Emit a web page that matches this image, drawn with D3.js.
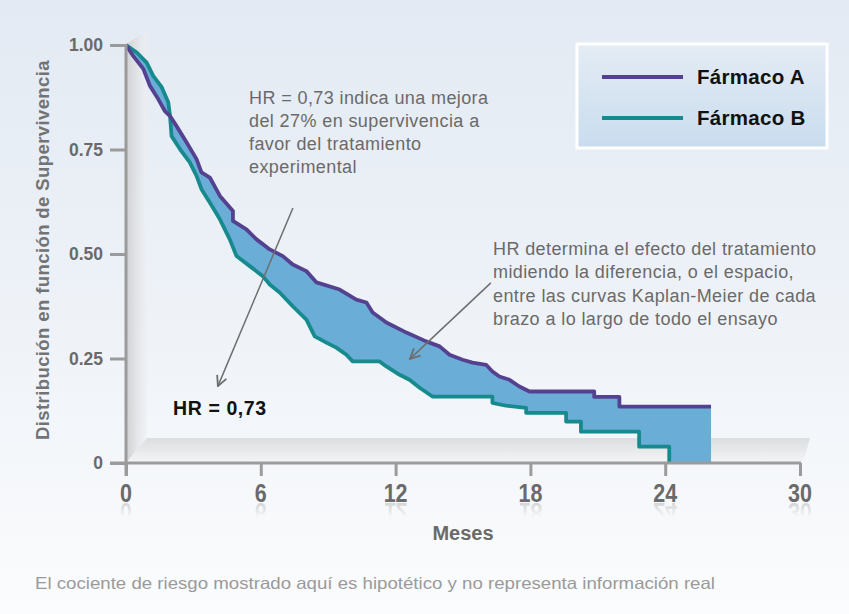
<!DOCTYPE html>
<html>
<head>
<meta charset="utf-8">
<script src="https://cdn.jsdelivr.net/npm/d3@7"></script>
<style>
  body { margin: 0; background: #fff; }
  svg { display: block; font-family: "Liberation Sans", Arial, sans-serif; }
</style>
</head>
<body>
<svg id="chart" width="849" height="614"></svg>
<script>
// Kaplan-Meier curve vertices (months, survival)
const farmacoA_t = [0, 0.32, 0.77, 1.07, 1.44, 1.73, 1.96, 2.25, 2.70, 3.14, 3.36, 3.73, 4.18, 4.76, 4.76, 5.36, 5.81, 6.40, 6.98, 7.42, 8.03, 8.48, 9.51, 10.25, 10.70, 10.98, 11.59, 12.48, 13.36, 13.96, 14.40, 14.98, 15.42, 16.03, 16.31, 16.62, 17.07, 17.51, 17.96, 20.84, 20.84, 21.96, 21.96, 26.04];
const farmacoA_s = [1.00, 0.974, 0.943, 0.902, 0.870, 0.842, 0.830, 0.806, 0.767, 0.727, 0.695, 0.683, 0.639, 0.603, 0.579, 0.559, 0.535, 0.511, 0.495, 0.475, 0.459, 0.432, 0.415, 0.391, 0.384, 0.360, 0.336, 0.312, 0.291, 0.279, 0.259, 0.247, 0.240, 0.235, 0.219, 0.207, 0.199, 0.183, 0.171, 0.171, 0.158, 0.158, 0.135, 0.135];

const farmacoB_t = [0, 0.48, 0.92, 1.21, 1.59, 1.88, 1.96, 2.03, 2.40, 2.84, 3.14, 3.36, 3.73, 4.18, 4.62, 4.92, 5.51, 6.09, 6.40, 6.84, 7.42, 8.03, 8.40, 8.92, 9.36, 9.81, 10.09, 11.29, 11.59, 12.18, 12.62, 13.07, 13.64, 16.31, 16.31, 16.92, 17.81, 17.81, 19.59, 19.59, 20.25, 20.25, 22.84, 22.84, 24.18, 24.18];
const farmacoB_s = [1.00, 0.982, 0.958, 0.926, 0.899, 0.863, 0.830, 0.782, 0.751, 0.719, 0.687, 0.655, 0.623, 0.583, 0.535, 0.495, 0.471, 0.447, 0.427, 0.408, 0.375, 0.343, 0.303, 0.288, 0.276, 0.259, 0.243, 0.243, 0.231, 0.211, 0.199, 0.180, 0.159, 0.159, 0.144, 0.137, 0.132, 0.120, 0.120, 0.099, 0.099, 0.075, 0.075, 0.039, 0.039, 0];

const xTicks = [0, 6, 12, 18, 24, 30];
const yTicks = [0, 0.25, 0.5, 0.75, 1];
const yTickLabels = ["0", "0.25", "0.50", "0.75", "1.00"];
const seriesNames = ["Fármaco A", "Fármaco B"];

const note1 = ["HR = 0,73 indica una mejora", "del 27% en supervivencia a", "favor del tratamiento", "experimental"];
const note2 = ["HR determina el efecto del tratamiento", "midiendo la diferencia, o el espacio,", "entre las curvas Kaplan-Meier de cada", "brazo a lo largo de todo el ensayo"];
const hrLabel = "HR = 0,73";
const footer = "El cociente de riesgo mostrado aquí es hipotético y no representa información real";

const colA = "#54418f", colB = "#168a8c", colFill = "#6aaed8", axisCol = "#9b9b9b", textCol = "#6a6a6a";

const svg = d3.select("#chart");
const defs = svg.append("defs");

// background
const bg = defs.append("linearGradient").attr("id", "bg").attr("x1", 0).attr("y1", 0).attr("x2", 0).attr("y2", 1);
bg.append("stop").attr("offset", "0%").attr("stop-color", "#e3eaf3");
bg.append("stop").attr("offset", "55%").attr("stop-color", "#eff3f8");
bg.append("stop").attr("offset", "100%").attr("stop-color", "#fbfcfd");
svg.append("rect").attr("width", 849).attr("height", 614).attr("fill", "url(#bg)");

const x = d3.scaleLinear().domain([0, 30]).range([126, 800]);
const y = d3.scaleLinear().domain([0, 1]).range([463, 45]);

// 3D wall + floor
const wallG = defs.append("linearGradient").attr("id", "wall").attr("x1", 0).attr("x2", 1).attr("y1", 0).attr("y2", 0);
wallG.append("stop").attr("offset", "0%").attr("stop-color", "#cfd0d2");
wallG.append("stop").attr("offset", "100%").attr("stop-color", "#eef0f3").attr("stop-opacity", 0.6);
const floorG = defs.append("linearGradient").attr("id", "floor").attr("x1", 0).attr("x2", 0).attr("y1", 0).attr("y2", 1);
floorG.append("stop").attr("offset", "0%").attr("stop-color", "#dcdddf");
floorG.append("stop").attr("offset", "100%").attr("stop-color", "#f4f5f6");
const d3w = 21, d3h = 25;
svg.append("path")
  .attr("d", `M${x(0)},${y(1) - 1} L${x(0) + d3w},${y(1) - 14} L${x(0) + d3w},${y(0) - d3h} L${x(0)},${y(0)} Z`)
  .attr("fill", "url(#wall)");
svg.append("path")
  .attr("d", `M${x(0)},${y(0)} L${x(0) + d3w},${y(0) - d3h} L${x(30) + 10},${y(0) - d3h} L${x(30) + 4},${y(0) - 4} L${x(30)},${y(0)} Z`)
  .attr("fill", "url(#floor)");

const dataA = farmacoA_t.map((t, i) => [t, farmacoA_s[i]]);
const dataB = farmacoB_t.map((t, i) => [t, farmacoB_s[i]]);
const line = d3.line().x((d) => x(d[0])).y((d) => y(d[1]));

// band between the two curves: A forward, then B backwards (B runs at 0 until A ends)
const tEnd = farmacoA_t[farmacoA_t.length - 1];
const bandPts = dataA.concat([[tEnd, 0]], dataB.slice().reverse());
svg.append("path").attr("d", line(bandPts) + "Z").attr("fill", colFill).attr("fill-rule", "nonzero");

svg.append("path").attr("d", line(dataB)).attr("fill", "none").attr("stroke", colB).attr("stroke-width", 3.8)
  .attr("stroke-linejoin", "round");
svg.append("path").attr("d", line(dataA)).attr("fill", "none").attr("stroke", colA).attr("stroke-width", 3.8)
  .attr("stroke-linejoin", "round");

// axes
const yAxis = d3.axisLeft(y).tickValues(yTicks).tickSize(16).tickPadding(7)
  .tickFormat((d, i) => yTickLabels[i]);
const yAxisG = svg.append("g").attr("transform", `translate(${x(0)},0)`).call(yAxis);
yAxisG.select(".domain").remove();
yAxisG.selectAll(".tick line").attr("stroke", axisCol).attr("stroke-width", 3);
yAxisG.selectAll(".tick text").attr("fill", textCol).attr("font-size", 17.5).attr("font-weight", "bold")
  .attr("font-family", "Liberation Sans, Arial, sans-serif");

const xAxis = d3.axisBottom(x).tickValues(xTicks).tickSize(13).tickFormat("");
const xAxisG = svg.append("g").attr("transform", `translate(0,${y(0)})`).call(xAxis);
xAxisG.select(".domain").remove();
xAxisG.selectAll(".tick line").attr("stroke", axisCol).attr("stroke-width", 3);
svg.append("line").attr("x1", x(0)).attr("x2", x(0)).attr("y1", y(1) - 1).attr("y2", y(0) + 13)
  .attr("stroke", axisCol).attr("stroke-width", 3);
svg.append("line").attr("x1", x(0) - 16).attr("x2", x(30) + 1).attr("y1", y(0)).attr("y2", y(0))
  .attr("stroke", axisCol).attr("stroke-width", 3);

// x tick labels with faded reflection
const refl = defs.append("linearGradient").attr("id", "reflFade").attr("x1", 0).attr("x2", 0).attr("y1", 0).attr("y2", 1);
refl.append("stop").attr("offset", "0%").attr("stop-color", "#fff").attr("stop-opacity", 0.35);
refl.append("stop").attr("offset", "100%").attr("stop-color", "#fff").attr("stop-opacity", 0);
defs.append("mask").attr("id", "reflMask").attr("maskContentUnits", "userSpaceOnUse")
  .append("rect").attr("x", 0).attr("y", 502).attr("width", 849).attr("height", 15).attr("fill", "url(#reflFade)");
const xl = svg.append("g");
const xr = svg.append("g").attr("mask", "url(#reflMask)");
xTicks.forEach((v) => {
  xl.append("text").attr("transform", `translate(${x(v)},502) scale(0.86,1)`)
    .attr("text-anchor", "middle").attr("font-size", 25).attr("font-weight", "bold").attr("fill", textCol).text(v);
  xr.append("text").attr("transform", `translate(${x(v)},503) scale(0.86,-1)`)
    .attr("text-anchor", "middle").attr("font-size", 25).attr("font-weight", "bold").attr("fill", "#8a8a8a").text(v);
});

// axis titles
svg.append("text").attr("x", (x(0) + x(30)) / 2).attr("y", 540)
  .attr("text-anchor", "middle").attr("font-size", 20).attr("font-weight", "bold").attr("fill", textCol).text("Meses");
svg.append("text").attr("transform", `translate(49,${(y(0) + y(1)) / 2 - 4}) rotate(-90)`)
  .attr("text-anchor", "middle").attr("font-size", 18.5).attr("letter-spacing", 0.4).attr("font-weight", "bold")
  .attr("fill", "#737373").text("Distribución en función de Supervivencia");

// legend
const lgG = defs.append("linearGradient").attr("id", "lg").attr("x1", 0).attr("x2", 0).attr("y1", 0).attr("y2", 1);
lgG.append("stop").attr("offset", "0%").attr("stop-color", "#e4ecf5");
lgG.append("stop").attr("offset", "100%").attr("stop-color", "#c9dcee");
const legend = svg.append("g").attr("transform", "translate(577,44)");
legend.append("rect").attr("width", 250).attr("height", 104).attr("fill", "url(#lg)")
  .attr("stroke", "#fff").attr("stroke-width", 3);
[colA, colB].forEach((c, i) => {
  const ly = 33 + i * 41;
  legend.append("line").attr("x1", 25).attr("x2", 106).attr("y1", ly).attr("y2", ly).attr("stroke", c).attr("stroke-width", 4);
  legend.append("text").attr("x", 120).attr("y", ly + 7).attr("font-size", 20.5).attr("letter-spacing", 0.3)
    .attr("font-weight", "bold").attr("fill", "#111").text(seriesNames[i]);
});

// annotations
const n1 = svg.append("text").attr("x", 249).attr("y", 104).attr("font-size", 18).attr("letter-spacing", 0.4).attr("fill", textCol);
note1.forEach((s, i) => n1.append("tspan").attr("x", 249).attr("dy", i ? 23 : 0).text(s));
const n2 = svg.append("text").attr("x", 493).attr("y", 255).attr("font-size", 18).attr("letter-spacing", 0.4).attr("fill", textCol);
note2.forEach((s, i) => n2.append("tspan").attr("x", 493).attr("dy", i ? 23.3 : 0).text(s));
svg.append("text").attr("x", 173).attr("y", 415).attr("font-size", 19.5).attr("letter-spacing", 0.6).attr("font-weight", "bold")
  .attr("fill", "#111").text(hrLabel);

defs.append("marker").attr("id", "arr").attr("viewBox", "0 0 12 12").attr("refX", 11).attr("refY", 6)
  .attr("markerWidth", 12).attr("markerHeight", 12).attr("markerUnits", "userSpaceOnUse").attr("orient", "auto")
  .append("path").attr("d", "M1,1 L11,6 L1,11").attr("fill", "none").attr("stroke", "#6e6e6e").attr("stroke-width", 1.8);
const arrows = [[[7.43, 0.61], [4.09, 0.184]], [[16.24, 0.431], [12.64, 0.249]]];
arrows.forEach(([a, b]) => {
  svg.append("line").attr("x1", x(a[0])).attr("y1", y(a[1])).attr("x2", x(b[0])).attr("y2", y(b[1]))
    .attr("stroke", "#6e6e6e").attr("stroke-width", 1.5).attr("marker-end", "url(#arr)");
});

svg.append("text").attr("x", 35).attr("y", 589).attr("font-size", 16.5).attr("fill", "#9a9a9a")
  .attr("textLength", 680).attr("lengthAdjust", "spacingAndGlyphs").text(footer);
</script>
</body>
</html>
